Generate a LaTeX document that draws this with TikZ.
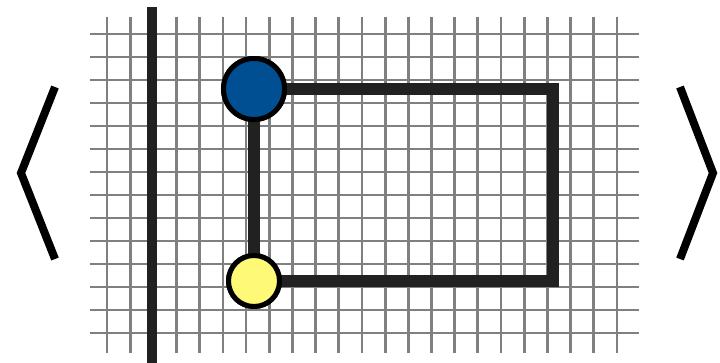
\documentclass[tikz,border=0pt]{standalone}
\begin{document}
\begin{tikzpicture}[x=1pt,y=-1pt,
  gridline/.style={draw=black!50, line width=2.8pt},
  axisline/.style={draw=black!87, line width=10pt},
  wire/.style={draw=black!87, line width=12pt, line join=miter},
  bracket/.style={draw=black, line width=8pt, line join=miter, miter limit=4},
  dot/.style={circle, draw=black, line width=5pt, inner sep=0pt},
  bluedot/.style={dot, fill=blueA, minimum size=61pt},
  yellowdot/.style={dot, fill=yellowA, minimum size=51pt}]
\definecolor{blueA}{HTML}{004F93}
\definecolor{yellowA}{HTML}{FFF978}
\useasboundingbox[fill=white] (0,0) rectangle (720,363);

% square grid
\foreach \i in {0,...,22}
  \draw[gridline] ({107+\i*23.18},17) -- ({107+\i*23.18},353);
\foreach \j in {0,...,13}
  \draw[gridline] (90,{34+\j*23}) -- (639,{34+\j*23});

% heavy vertical axis
\coordinate (axtop) at (152,7);
\coordinate (axbot) at (152,363);
\draw[axisline] (axtop) -- (axbot);

% loop between the two markers
\node[bluedot] (b) at (254,89) {};
\node[yellowdot] (y) at (254,281) {};
\coordinate (tr) at (553,89);
\coordinate (br) at (553,281);
\draw[wire] (y.center) -- (b.center) -- (tr) -- (br) -- (y.center);
\node[bluedot] at (b) {};
\node[yellowdot] at (y) {};

% angle brackets
\draw[bracket] (55,87) -- (21,173) -- (55,259);
\draw[bracket] (680,87) -- (713,173) -- (680,259);
\end{tikzpicture}
\end{document}
